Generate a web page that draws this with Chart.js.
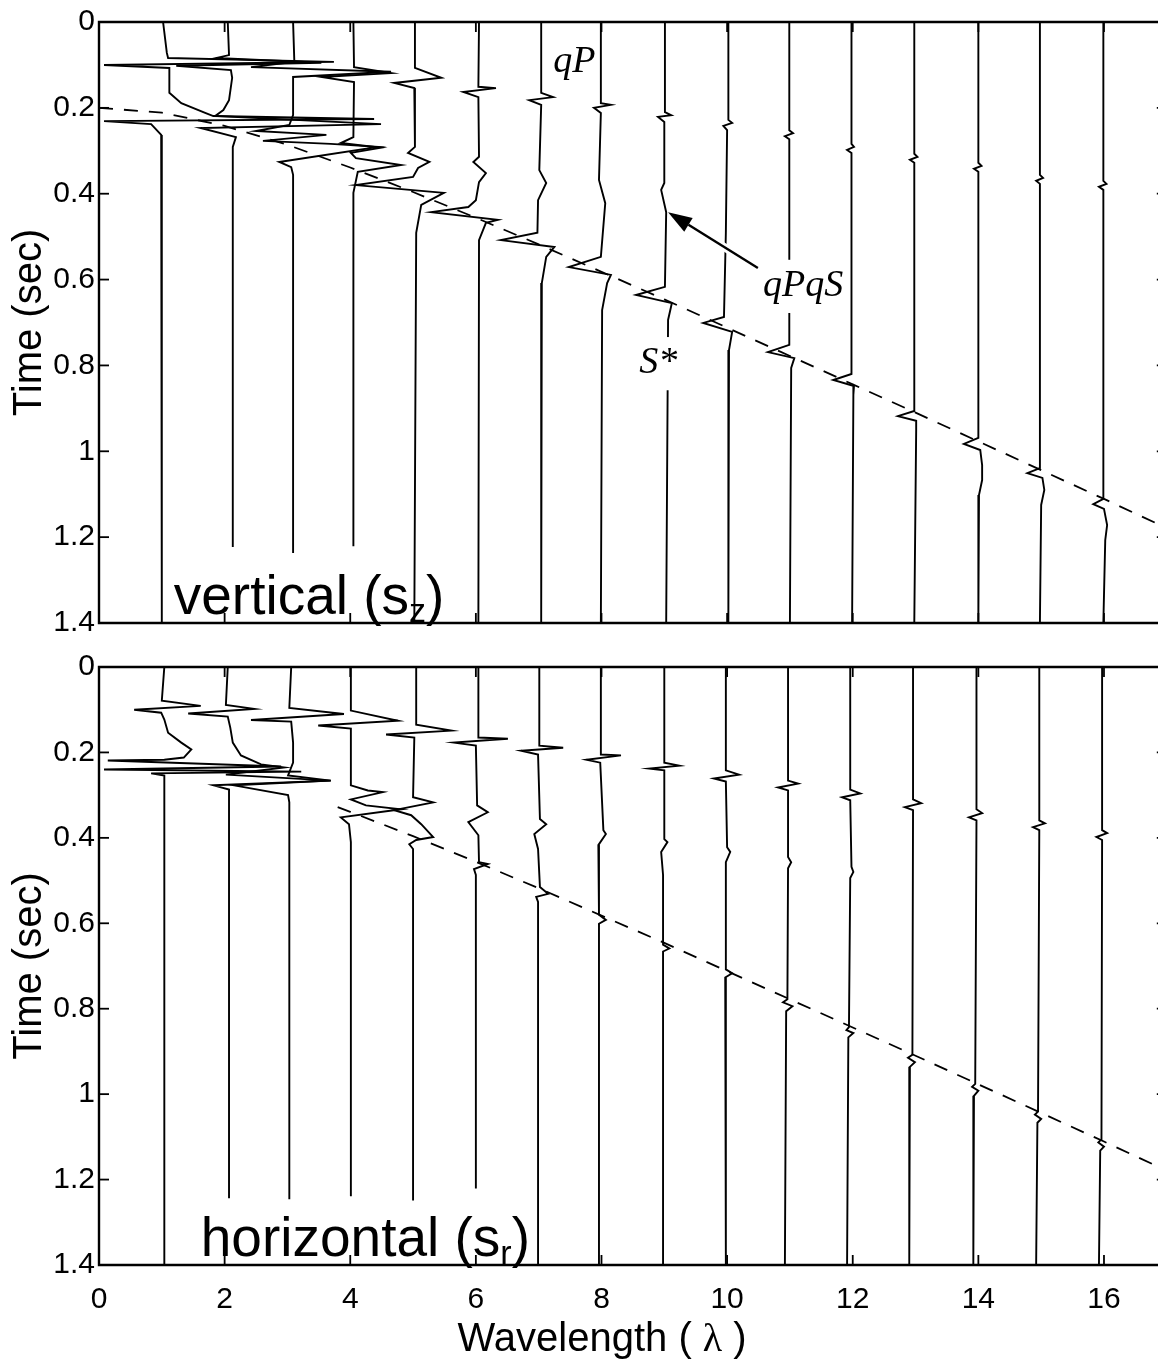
<!DOCTYPE html>
<html>
<head>
<meta charset="utf-8">
<script src="https://cdn.jsdelivr.net/npm/chart.js@4.4.1/dist/chart.umd.min.js"></script>
<style>
  html, body { margin: 0; padding: 0; background: #fff; }
  #sheet { position: relative; width: 1158px; height: 1365px; }
  canvas { display: block; }
</style>
</head>
<body>
<div id="sheet">
  <canvas id="verticalChart" width="1158" height="645"></canvas>
  <canvas id="horizontalChart" width="1158" height="720"></canvas>
</div>
<script>
// axis ticks
const timeTicks = [0, 0.2, 0.4, 0.6, 0.8, 1, 1.2, 1.4];
const wavelengthTicks = [0, 2, 4, 6, 8, 10, 12, 14, 16];

// traces of the vertical component, [wavelength + deflection, time]
const verticalTraces = [
  [[1.02,0],[1.08,0.072],[1.10,0.084],[3.74,0.093],[0.08,0.100],[1.12,0.107],[1.12,0.165],[1.31,0.189],[1.70,0.212],[1.82,0.219],[4.38,0.226],[0.08,0.231],[0.83,0.238],[0.99,0.263],[1.00,1.4]],
  [[2.05,0],[2.07,0.077],[1.86,0.084],[3.54,0.095],[1.23,0.102],[2.10,0.112],[2.12,0.130],[2.07,0.182],[1.98,0.205],[1.85,0.219],[4.49,0.238],[1.62,0.247],[2.18,0.268],[2.13,0.291],[2.13,1.223]],
  [[3.09,0],[3.11,0.093],[2.42,0.105],[4.65,0.116],[3.09,0.128],[3.09,0.217],[3.03,0.240],[2.50,0.254],[3.62,0.263],[2.61,0.277],[3.69,0.284],[4.44,0.291],[2.87,0.326],[3.06,0.338],[3.09,0.356],[3.09,1.237]],
  [[4.05,0],[4.06,0.105],[4.65,0.119],[3.54,0.128],[4.06,0.140],[4.05,0.268],[3.85,0.282],[4.49,0.293],[4.01,0.305],[4.09,0.317],[4.81,0.333],[4.12,0.349],[4.05,0.398],[4.05,1.221]],
  [[5.03,0],[5.03,0.107],[5.45,0.130],[4.70,0.142],[5.02,0.154],[5.03,0.291],[4.92,0.305],[5.26,0.326],[5.08,0.340],[5.00,0.361],[4.09,0.380],[5.49,0.398],[5.13,0.426],[5.05,0.491],[5.02,1.4]],
  [[6.05,0],[6.04,0.151],[6.32,0.154],[5.80,0.163],[6.04,0.175],[6.05,0.314],[5.96,0.326],[6.16,0.352],[6.05,0.373],[6.00,0.415],[5.88,0.431],[5.29,0.443],[6.35,0.461],[6.16,0.468],[6.05,0.508],[6.04,1.4]],
  [[7.04,0],[7.04,0.165],[7.23,0.175],[6.85,0.182],[7.04,0.193],[7.01,0.345],[7.12,0.375],[6.99,0.415],[6.98,0.491],[6.40,0.508],[7.25,0.524],[7.12,0.547],[7.05,0.608],[7.04,1.4]],
  [[7.99,0],[7.99,0.189],[8.15,0.193],[7.88,0.200],[7.99,0.212],[7.96,0.368],[8.06,0.422],[7.99,0.547],[7.48,0.571],[8.15,0.589],[8.09,0.608],[8.01,0.671],[7.99,1.4]],
  [[9.01,0],[9.01,0.210],[9.11,0.217],[8.90,0.221],[9.00,0.233],[9.00,0.375],[8.95,0.391],[9.03,0.443],[9.01,0.617],[8.55,0.636],[9.12,0.655],[9.06,0.694],[9.03,1.4]],
  [[10.02,0],[10.02,0.228],[10.08,0.235],[9.94,0.242],[10.00,0.252],[9.98,0.491],[9.95,0.687],[9.62,0.701],[10.08,0.722],[10.03,0.764],[10.02,1.4]],
  [[10.99,0],[10.99,0.252],[11.05,0.259],[10.92,0.266],[10.99,0.273],[10.99,0.752],[10.65,0.769],[11.07,0.783],[11.02,0.806],[11.00,1.4]],
  [[11.98,0],[11.98,0.284],[12.02,0.291],[11.91,0.298],[11.98,0.305],[11.98,0.820],[11.69,0.834],[12.02,0.848],[12.01,0.869],[11.99,1.4]],
  [[12.98,0],[12.98,0.307],[13.03,0.314],[12.91,0.321],[12.98,0.328],[12.98,0.906],[12.72,0.918],[13.01,0.929],[13.01,0.950],[12.98,1.4]],
  [[14.00,0],[14.00,0.328],[14.05,0.335],[13.93,0.342],[14.00,0.349],[14.00,0.969],[13.77,0.983],[14.03,0.997],[14.06,1.032],[14.06,1.067],[14.01,1.102],[14.00,1.4]],
  [[14.98,0],[14.98,0.356],[15.03,0.363],[14.92,0.370],[14.98,0.377],[14.98,1.039],[14.78,1.051],[15.02,1.062],[15.05,1.090],[15.00,1.125],[14.98,1.4]],
  [[15.99,0],[15.99,0.370],[16.04,0.377],[15.92,0.384],[15.99,0.391],[15.99,1.111],[15.83,1.123],[16.00,1.134],[16.05,1.172],[16.02,1.207],[15.99,1.4]]
];

// traces of the horizontal component
const horizontalTraces = [
  [[1.04,0],[1.00,0.079],[1.62,0.091],[0.56,0.100],[0.99,0.107],[1.04,0.123],[1.10,0.154],[1.31,0.177],[1.47,0.193],[1.35,0.212],[1.04,0.217],[0.14,0.219],[2.90,0.233],[0.08,0.240],[3.22,0.245],[0.83,0.249],[1.04,0.254],[1.04,1.4]],
  [[2.05,0],[2.02,0.089],[2.47,0.098],[1.42,0.109],[2.05,0.116],[2.09,0.142],[2.13,0.177],[2.26,0.207],[2.58,0.228],[2.95,0.235],[2.02,0.252],[3.69,0.266],[1.82,0.277],[2.07,0.287],[2.07,1.244]],
  [[3.06,0],[3.03,0.096],[3.90,0.110],[2.42,0.124],[3.06,0.128],[3.09,0.177],[3.09,0.224],[3.01,0.254],[3.69,0.266],[2.15,0.277],[3.01,0.300],[3.03,0.317],[3.03,1.246]],
  [[4.01,0],[4.01,0.102],[4.76,0.126],[3.49,0.137],[4.01,0.144],[4.01,0.277],[4.28,0.289],[4.52,0.293],[4.01,0.310],[4.25,0.324],[4.81,0.333],[3.85,0.352],[3.98,0.368],[4.01,0.410],[4.01,1.239]],
  [[5.05,0],[5.05,0.135],[5.61,0.149],[4.57,0.158],[5.02,0.165],[5.00,0.305],[5.32,0.317],[4.70,0.335],[4.97,0.347],[5.13,0.368],[5.32,0.398],[5.05,0.405],[4.94,0.415],[5.00,0.426],[5.00,1.249]],
  [[6.04,0],[6.04,0.165],[6.51,0.168],[5.65,0.177],[6.00,0.184],[6.02,0.324],[6.19,0.340],[5.88,0.363],[6.04,0.394],[6.05,0.457],[6.19,0.461],[5.97,0.473],[6.00,0.487],[6.00,1.221]],
  [[7.01,0],[7.01,0.184],[7.39,0.189],[6.72,0.196],[6.99,0.205],[7.02,0.356],[7.12,0.368],[6.93,0.391],[6.99,0.426],[7.02,0.515],[7.15,0.531],[6.96,0.538],[6.99,0.550],[6.99,1.4]],
  [[7.99,0],[7.99,0.205],[8.31,0.207],[7.76,0.217],[7.98,0.224],[8.03,0.382],[8.07,0.391],[7.95,0.417],[7.96,0.450],[7.96,0.580],[8.07,0.592],[7.96,0.601],[7.96,1.4]],
  [[9.00,0],[9.00,0.224],[9.24,0.231],[8.76,0.238],[9.00,0.242],[9.00,0.403],[9.05,0.410],[8.95,0.433],[8.98,0.487],[8.98,0.650],[9.08,0.659],[8.98,0.666],[8.98,1.4]],
  [[9.98,0],[9.98,0.242],[10.19,0.252],[9.79,0.261],[9.98,0.268],[10.00,0.422],[10.05,0.433],[9.98,0.457],[9.98,0.708],[10.08,0.717],[9.97,0.727],[9.98,1.4]],
  [[10.97,0],[10.97,0.266],[11.13,0.273],[10.81,0.282],[10.97,0.289],[10.97,0.445],[11.02,0.457],[10.97,0.471],[10.96,0.778],[10.89,0.785],[11.04,0.794],[10.94,0.806],[10.92,1.4]],
  [[11.96,0],[11.96,0.287],[12.12,0.296],[11.83,0.305],[11.96,0.312],[11.98,0.468],[12.01,0.480],[11.96,0.494],[11.94,0.843],[11.90,0.850],[12.01,0.857],[11.93,0.867],[11.91,1.4]],
  [[12.96,0],[12.96,0.310],[13.09,0.319],[12.83,0.328],[12.96,0.335],[12.95,0.908],[12.88,0.915],[12.99,0.925],[12.91,0.936],[12.90,1.4]],
  [[13.97,0],[13.97,0.333],[14.06,0.342],[13.85,0.352],[13.97,0.359],[13.95,0.976],[13.90,0.983],[14.00,0.992],[13.93,1.004],[13.92,1.4]],
  [[14.97,0],[14.97,0.359],[15.06,0.366],[14.87,0.375],[14.97,0.382],[14.95,1.041],[14.90,1.048],[15.00,1.058],[14.94,1.067],[14.92,1.4]],
  [[15.97,0],[15.97,0.382],[16.05,0.389],[15.88,0.398],[15.97,0.405],[15.96,1.106],[15.91,1.113],[16.00,1.123],[15.94,1.132],[15.92,1.4]]
];

// dashed S* arrival curves
const verticalArrival = [[0,0.200],[1,0.211],[2,0.242],[3,0.286],[4,0.339],[5,0.396],[6,0.456],[7,0.518],[8,0.582],[9,0.646],[10,0.712],[11,0.778],[12,0.844],[13,0.910],[14,0.977],[15,1.044],[16,1.111],[17,1.179]];
const horizontalArrival = [[3.8,0.328],[4,0.339],[5,0.396],[6,0.456],[7,0.518],[8,0.582],[9,0.646],[10,0.712],[11,0.778],[12,0.844],[13,0.910],[14,0.977],[15,1.044],[16,1.111],[17,1.179]];

const SANS = "'Liberation Sans', Arial, Helvetica, sans-serif";
const SERIF = "'Liberation Serif', 'Times New Roman', serif";
const X_MAX = 16.86;
const BOX_RIGHT = 17;

function line(ctx, x1, y1, x2, y2) {
  ctx.beginPath();
  ctx.moveTo(x1, y1);
  ctx.lineTo(x2, y2);
  ctx.stroke();
}

function partFont(p) {
  return `${p.style || ""} ${p.size}px ${p.family || SANS}`;
}

// labels, arrow, MATLAB-style box with inward ticks
const marksPlugin = {
  id: "marks",
  afterDraw(chart, args, opts) {
    const { ctx, chartArea: area, scales: { x, y } } = chart;
    ctx.save();
    ctx.textAlign = "left";
    ctx.textBaseline = "alphabetic";

    (opts.labels || []).forEach((label) => {
      const px = x.getPixelForValue(label.x);
      const py = label.t === undefined ? area.bottom + label.below : y.getPixelForValue(label.t);
      const widths = label.parts.map((p) => { ctx.font = partFont(p); return ctx.measureText(p.text).width; });
      const total = widths.reduce((a, b) => a + b, 0);
      let cx = label.center ? px - total / 2 : px;
      if (label.clear) {
        const size = label.parts[0].size;
        ctx.fillStyle = "#fff";
        ctx.fillRect(cx - 4, py - size * 0.95, total + 8, size * 1.4);
      }
      ctx.fillStyle = "#000";
      ctx.textBaseline = label.baseline || "alphabetic";
      label.parts.forEach((p, i) => {
        ctx.font = partFont(p);
        ctx.fillText(p.text, cx, py + (p.dy || 0));
        cx += widths[i];
      });
      ctx.textBaseline = "alphabetic";
    });

    if (opts.arrow) {
      const [tx, tt] = opts.arrow.from;
      const [hx, ht] = opts.arrow.to;
      const x1 = x.getPixelForValue(tx), y1 = y.getPixelForValue(tt);
      const x2 = x.getPixelForValue(hx), y2 = y.getPixelForValue(ht);
      const ang = Math.atan2(y2 - y1, x2 - x1);
      const len = 24, half = 8;
      const bx = x2 - len * Math.cos(ang), by = y2 - len * Math.sin(ang);
      ctx.strokeStyle = "#fff";
      ctx.lineWidth = 8;
      line(ctx, x1, y1, bx, by);
      ctx.strokeStyle = "#000";
      ctx.lineWidth = 2.4;
      line(ctx, x1, y1, bx, by);
      ctx.fillStyle = "#000";
      ctx.beginPath();
      ctx.moveTo(x2, y2);
      ctx.lineTo(bx + half * Math.sin(ang), by - half * Math.cos(ang));
      ctx.lineTo(bx - half * Math.sin(ang), by + half * Math.cos(ang));
      ctx.closePath();
      ctx.fill();
    }

    const right = x.getPixelForValue(BOX_RIGHT);
    ctx.strokeStyle = "#000";
    ctx.lineWidth = 2.4;
    ctx.beginPath();
    ctx.moveTo(right, area.top);
    ctx.lineTo(area.left, area.top);
    ctx.lineTo(area.left, area.bottom);
    ctx.lineTo(right, area.bottom);
    ctx.stroke();
    ctx.lineWidth = 1.8;
    timeTicks.forEach((t) => {
      const py = y.getPixelForValue(t);
      line(ctx, area.left, py, area.left + 10, py);
      line(ctx, right - 10, py, right, py);
    });
    wavelengthTicks.forEach((w) => {
      const px = x.getPixelForValue(w);
      line(ctx, px, area.bottom, px, area.bottom - 10);
      line(ctx, px, area.top, px, area.top + 10);
    });
    ctx.restore();
  }
};

function makeDatasets(traces, arrival) {
  const sets = traces.map((points) => ({
    data: points,
    showLine: true,
    borderColor: "#000",
    borderWidth: 1.9,
    pointRadius: 0,
    tension: 0
  }));
  sets.push({
    data: arrival,
    showLine: true,
    borderColor: "#000",
    borderWidth: 1.8,
    borderDash: [14, 11],
    pointRadius: 0,
    tension: 0
  });
  return sets;
}

function makeChart(canvasId, traces, arrival, showX, padding, marks) {
  return new Chart(document.getElementById(canvasId), {
    type: "scatter",
    data: { datasets: makeDatasets(traces, arrival) },
    options: {
      responsive: false,
      animation: false,
      events: [],
      layout: { padding },
      plugins: { legend: { display: false }, tooltip: { enabled: false }, marks },
      scales: {
        x: {
          type: "linear",
          min: 0,
          max: X_MAX,
          display: showX,
          grid: { display: false, drawTicks: false },
          border: { display: false },
          afterBuildTicks: (scale) => { scale.ticks = wavelengthTicks.map((v) => ({ value: v })); },
          afterFit: (scale) => { if (showX) scale.height = 100; },
          ticks: { color: "#000", padding: 17, maxRotation: 0, autoSkip: false, font: { family: SANS, size: 30 } }
        },
        y: {
          type: "linear",
          min: 0,
          max: 1.4,
          reverse: true,
          grid: { display: false, drawTicks: false },
          border: { display: false },
          afterBuildTicks: (scale) => { scale.ticks = timeTicks.map((v) => ({ value: v })); },
          afterFit: (scale) => { scale.width = 99; },
          ticks: {
            color: "#000",
            padding: 4,
            autoSkip: false,
            font: { family: SANS, size: 30 },
            callback: (v) => String(+Number(v).toFixed(1))
          },
          title: { display: true, text: "Time (sec)", color: "#000", padding: { top: 6, bottom: 0 }, font: { family: SANS, size: 40 } }
        }
      }
    },
    plugins: [marksPlugin]
  });
}

makeChart("verticalChart", verticalTraces, verticalArrival, false, { top: 22, bottom: 22, left: 0, right: 0 }, {
  labels: [
    { x: 7.23, t: 0.117, parts: [{ text: "qP", size: 38, style: "italic", family: SERIF }] },
    { x: 10.57, t: 0.638, clear: true, parts: [{ text: "qPqS", size: 38, style: "italic", family: SERIF }] },
    { x: 8.6, t: 0.818, clear: true, parts: [{ text: "S*", size: 38, style: "italic", family: SERIF }] },
    { x: 1.19, t: 1.38, parts: [{ text: "vertical (s", size: 55 }, { text: "z", size: 34, dy: 8 }, { text: ")", size: 55 }] }
  ],
  arrow: { from: [10.49, 0.573], to: [9.06, 0.443] }
});

makeChart("horizontalChart", horizontalTraces, horizontalArrival, true, { top: 19, bottom: 0, left: 0, right: 0 }, {
  labels: [
    { x: 1.62, t: 1.38, parts: [{ text: "horizontal (s", size: 55 }, { text: "r", size: 34, dy: 8 }, { text: ")", size: 55 }] },
    { x: 8.01, below: 75, center: true, baseline: "middle", parts: [{ text: "Wavelength ( ", size: 40 }, { text: "λ", size: 40, family: SERIF }, { text: " )", size: 40 }] }
  ]
});
</script>
</body>
</html>
